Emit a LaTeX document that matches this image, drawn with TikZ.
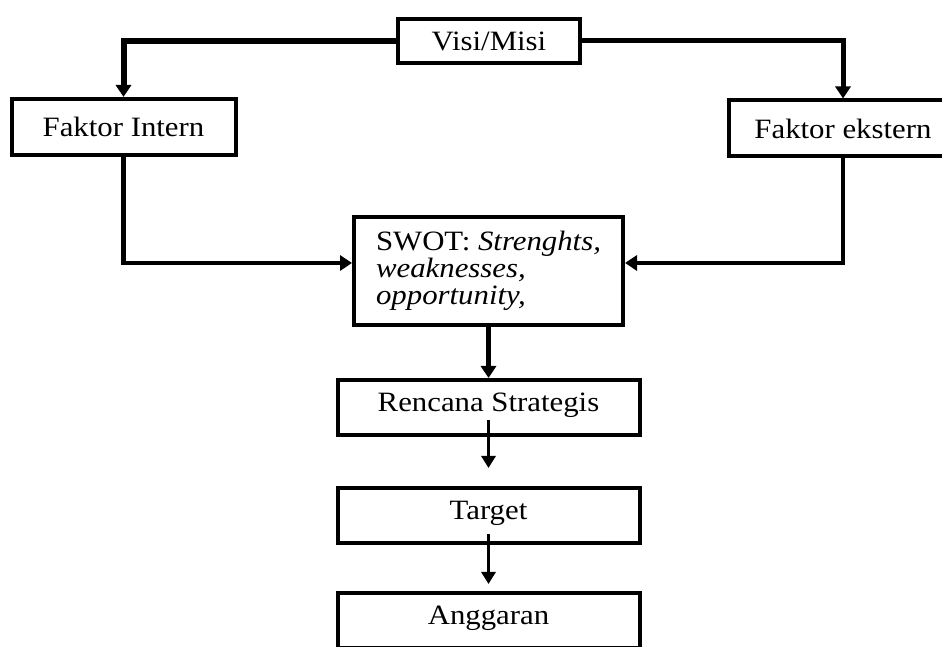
\documentclass[tikz,border=0pt]{standalone}
\usepackage{fontspec}
\setmainfont[FakeStretch=1.1]{Liberation Serif}
\usetikzlibrary{arrows.meta,positioning,calc}

\begin{document}
\begin{tikzpicture}[
    x=1pt, y=1pt,
    font=\fontsize{28pt}{27pt}\selectfont,
    box/.style={draw=black, line width=4pt, fill=white, align=center, inner sep=4pt},
    topbox/.style={box, minimum width=182pt, minimum height=44pt},
    factorbox/.style={box, minimum width=224pt, minimum height=56pt},
    stepbox/.style={box, minimum width=302pt, minimum height=55pt, text height=19pt, text depth=11pt},
    flow/.style={-{Triangle[length=12pt, width=15pt]}, line width=4.5pt, draw=black},
    thinflow/.style={-{Triangle[length=12pt, width=14pt]}, line width=3.5pt, draw=black}
  ]
    \useasboundingbox (0,0) rectangle (942,647);

    \node[topbox] (visi) at (489,606) {Visi/Misi};
    \node[factorbox] (intern) at (123.5,520) {Faktor Intern};
    \node[factorbox, minimum width=228pt] (ekstern) at (843,518.5) {Faktor ekstern};

    \node[box, align=left, minimum width=269pt, minimum height=108pt] (swot) at (488.5,376)
      {SWOT: \textit{Strenghts,}\\ \textit{weaknesses,}\\ \textit{opportunity,}};
    \node[stepbox, below=51pt of swot] (rencana) {Rencana Strategis};
    \node[stepbox, below=49pt of rencana] (target) {Target};
    \node[stepbox, below=46pt of target] (anggaran) {Anggaran};

    \draw[flow, line width=6pt] (visi.west) -| (intern.north);
    \draw[flow, line width=5pt] (visi.east) -| (ekstern.north);
    \draw[flow] (intern.south) |- ([yshift=8pt]swot.west);
    \draw[flow] (ekstern.south) |- ([yshift=8pt]swot.east);
    \draw[flow] (swot) -- (rencana);
    \draw[thinflow] ([yshift=-13pt]rencana.center) -- ([yshift=18pt]target.north);
    \draw[thinflow] ([yshift=-19pt]target.center) -- ([yshift=7pt]anggaran.north);

  \end{tikzpicture}
\end{document}
